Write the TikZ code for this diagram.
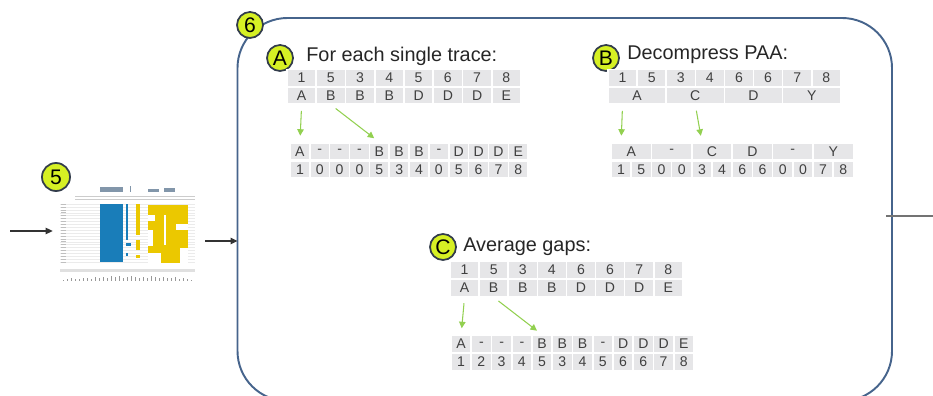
\documentclass[tikz,border=0pt]{standalone}
\usepackage{fontspec}
\setmainfont{Liberation Sans}
\usepackage{tikz}
\usetikzlibrary{arrows.meta,positioning,calc}
\definecolor{panelblue}{RGB}{70,100,140}
\definecolor{badgefill}{RGB}{214,240,36}
\definecolor{badgeline}{RGB}{50,60,75}
\definecolor{cellgray}{RGB}{230,230,232}
\definecolor{celltext}{RGB}{64,64,64}
\definecolor{linkgreen}{RGB}{146,208,80}
\definecolor{sheetblue}{RGB}{25,125,185}
\definecolor{sheetyellow}{RGB}{235,200,0}
\definecolor{sheethead}{RGB}{130,150,170}

\begin{document}
\begin{tikzpicture}[
    cell/.style={rectangle, draw=white, line width=0.9pt, fill=cellgray, minimum height=3.4mm, inner sep=0pt, text=celltext, font=\fontsize{8}{9}\selectfont},
    badge/.style={circle, draw=badgeline, line width=1pt, fill=badgefill, minimum size=5.2mm, inner sep=0pt, font=\fontsize{12}{12}\selectfont},
    heading/.style={anchor=base west, inner sep=0pt, text=black!85, font=\fontsize{11.3}{13}\selectfont},
    link/.style={-{Triangle[length=1.3mm, width=1.3mm]}, linkgreen, line width=0.6pt, shorten <=1.2mm, shorten >=1.3mm},
    flow/.style={-{Triangle[length=1.4mm, width=1.3mm]}, black!80, line width=0.6pt}
]
    \useasboundingbox (0,0) rectangle (18.66,-7.92);

    % stage 6 panel, runs off the bottom
    \node[draw=panelblue, line width=1.1pt, rounded corners=1cm, minimum width=13.09cm, minimum height=7.66cm, inner sep=0pt, outer sep=0pt] (stage) at (11.295,-4.19) {};

    % stage 5: spreadsheet thumbnail
    \node[minimum width=2.7cm, minimum height=1.9cm, inner sep=0pt] (sheet) at (2.55,-4.69) {};
    \fill[sheethead] (2.00,-3.74) rectangle (2.46,-3.84);
    \fill[sheethead] (2.96,-3.79) rectangle (3.18,-3.84);
    \fill[sheethead] (3.28,-3.77) rectangle (3.50,-3.84);
    \fill[sheethead] (2.60,-3.72) rectangle (2.62,-3.84);
    \draw[black!20, line width=0.3pt] (1.50,-3.92) -- (3.90,-3.92);
    \draw[black!20, line width=0.3pt] (1.50,-3.98) -- (3.90,-3.98);
    \foreach \r in {0,...,20}
        \draw[black!8, line width=0.2pt] (1.20,{-4.08-0.058*\r}) -- (3.90,{-4.08-0.058*\r});
    \foreach \r in {0,...,20}
        \draw[black!25, line width=0.3pt] (1.22,{-4.08-0.058*\r}) -- (1.32,{-4.08-0.058*\r});
    \fill[sheetblue] (2.00,-4.08) rectangle (2.46,-5.24);
    \fill[sheetblue] (2.52,-4.08) rectangle (2.56,-4.80);
    \fill[sheetblue] (2.52,-4.86) rectangle (2.62,-4.92);
    \fill[sheetblue] (2.52,-5.06) rectangle (2.56,-5.12);
    \fill[sheetyellow] (2.72,-4.08) rectangle (2.80,-4.70);
    \fill[sheetyellow] (2.72,-4.80) rectangle (2.80,-5.00);
    \fill[sheetyellow] (2.72,-5.10) rectangle (2.80,-5.16);
    \fill[sheetyellow] (2.96,-4.10) rectangle (3.76,-5.26);
    \fill[white] (2.96,-4.30) rectangle (3.10,-4.42);
    \fill[white] (2.96,-4.60) rectangle (3.06,-4.92);
    \fill[white] (3.28,-4.30) rectangle (3.32,-4.90);
    \fill[white] (3.52,-4.48) rectangle (3.76,-4.60);
    \fill[white] (3.60,-4.96) rectangle (3.76,-5.26);
    \fill[white] (2.96,-5.06) rectangle (3.22,-5.26);
    \fill[black!12] (1.20,-5.38) rectangle (3.90,-5.44);
    \foreach \x/\h in {1.26/0.02,1.34/0.03,1.42/0.05,1.50/0.03,1.58/0.04,1.66/0.06,1.74/0.05,1.82/0.04,1.90/0.07,1.98/0.05,2.06/0.08,2.14/0.06,2.22/0.10,2.30/0.07,2.38/0.09,2.46/0.06,2.54/0.08,2.62/0.10,2.70/0.07,2.78/0.05,2.86/0.08,2.94/0.06,3.02/0.09,3.10/0.07,3.18/0.05,3.26/0.08,3.34/0.06,3.42/0.05,3.50/0.07,3.58/0.04,3.66/0.06,3.74/0.03,3.82/0.02}
        \draw[black!40, line width=0.4pt] (\x,-5.62) -- ++(0,\h);

    % badges
    \node[badge, minimum size=5.6mm] (b5) at (1.12,-3.54) {5};
    \node[badge] (b6) at (5.00,-0.50) {6};
    \node[badge] (bA) at (5.60,-1.16) {A};
    \node[badge] (bB) at (12.12,-1.16) {B};
    \node[badge] (bC) at (8.86,-4.94) {C};

    % headings
    \node[heading] (tA) at (6.12,-1.24) {For each single trace:};
    \node[heading] (tB) at (12.54,-1.20) {Decompress PAA:};
    \node[heading] (tC) at (9.26,-5.04) {Average gaps:};

    % A: one trace, raw and gap-filled
    \foreach \v [count=\i] in {1,5,3,4,5,6,7,8}
        \node[cell, minimum width=5.85mm] (At1-\i) at ({5.74+(\i-0.5)*0.585},-1.56) {\v};
    \foreach \v [count=\i] in {A,B,B,B,D,D,D,E}
        \node[cell, minimum width=5.85mm] (At2-\i) at ({5.74+(\i-0.5)*0.585},-1.91) {\v};
    \foreach \v [count=\i] in {A,-,-,-,B,B,B,-,D,D,D,E}
        \node[cell, minimum width=3.97mm] (Ab1-\i) at ({5.80+(\i-0.5)*0.397},-3.03) {\v};
    \foreach \v [count=\i] in {1,0,0,0,5,3,4,0,5,6,7,8}
        \node[cell, minimum width=3.97mm] (Ab2-\i) at ({5.80+(\i-0.5)*0.397},-3.39) {\v};

    % B: PAA segments, expanded
    \foreach \v [count=\i] in {1,5,3,4,6,6,7,8}
        \node[cell, minimum width=5.82mm] (Bt1-\i) at ({12.16+(\i-0.5)*0.582},-1.56) {\v};
    \foreach \v [count=\i] in {A,C,D,Y}
        \node[cell, minimum width=11.64mm] (Bt2-\i) at ({12.16+(\i-0.5)*1.164},-1.91) {\v};
    \foreach \v [count=\i] in {A,-,C,D,-,Y}
        \node[cell, minimum width=8.08mm] (Bb1-\i) at ({12.22+(\i-0.5)*0.808},-3.03) {\v};
    \foreach \v [count=\i] in {1,5,0,0,3,4,6,6,0,0,7,8}
        \node[cell, minimum width=4.04mm] (Bb2-\i) at ({12.22+(\i-0.5)*0.404},-3.39) {\v};

    % C: gaps filled with averages
    \foreach \v [count=\i] in {1,5,3,4,6,6,7,8}
        \node[cell, minimum width=5.82mm] (Ct1-\i) at ({9.00+(\i-0.5)*0.582},-5.40) {\v};
    \foreach \v [count=\i] in {A,B,B,B,D,D,D,E}
        \node[cell, minimum width=5.82mm] (Ct2-\i) at ({9.00+(\i-0.5)*0.582},-5.76) {\v};
    \foreach \v [count=\i] in {A,-,-,-,B,B,B,-,D,D,D,E}
        \node[cell, minimum width=4.05mm] (Cb1-\i) at ({9.02+(\i-0.5)*0.405},-6.88) {\v};
    \foreach \v [count=\i] in {1,2,3,4,5,3,4,5,6,6,7,8}
        \node[cell, minimum width=4.05mm] (Cb2-\i) at ({9.02+(\i-0.5)*0.405},-7.24) {\v};

    % green mapping arrows
    \draw[link] (At2-1.south) -- (Ab1-1.north);
    \draw[link] (At2-2.south) -- (Ab1-5.north);
    \draw[link] (Bt1-1 |- Bt2-1.south) -- (Bb2-1 |- Bb1-1.north);
    \draw[link] (Bt2-2.south) -- (Bb2-5 |- Bb1-3.north);
    \draw[link] (Ct2-1.south) -- (Cb1-1.north);
    \draw[link] (Ct2-2.south) -- (Cb1-5.north);

    % flow between stages
    \coordinate (in) at (0.20,-4.62);
    \coordinate (feed) at ([xshift=2mm, yshift=-1.3mm]sheet.east);
    \coordinate (out) at (18.66,-4.32);
    \draw[flow, shorten >=1.4mm] (in) -- (in -| sheet.west);
    \draw[flow] (feed) -- (feed -| stage.west);
    \draw[black!55, line width=0.8pt] (out -| stage.east) ++(-0.12,0) -- (out);
\end{tikzpicture}
\end{document}
